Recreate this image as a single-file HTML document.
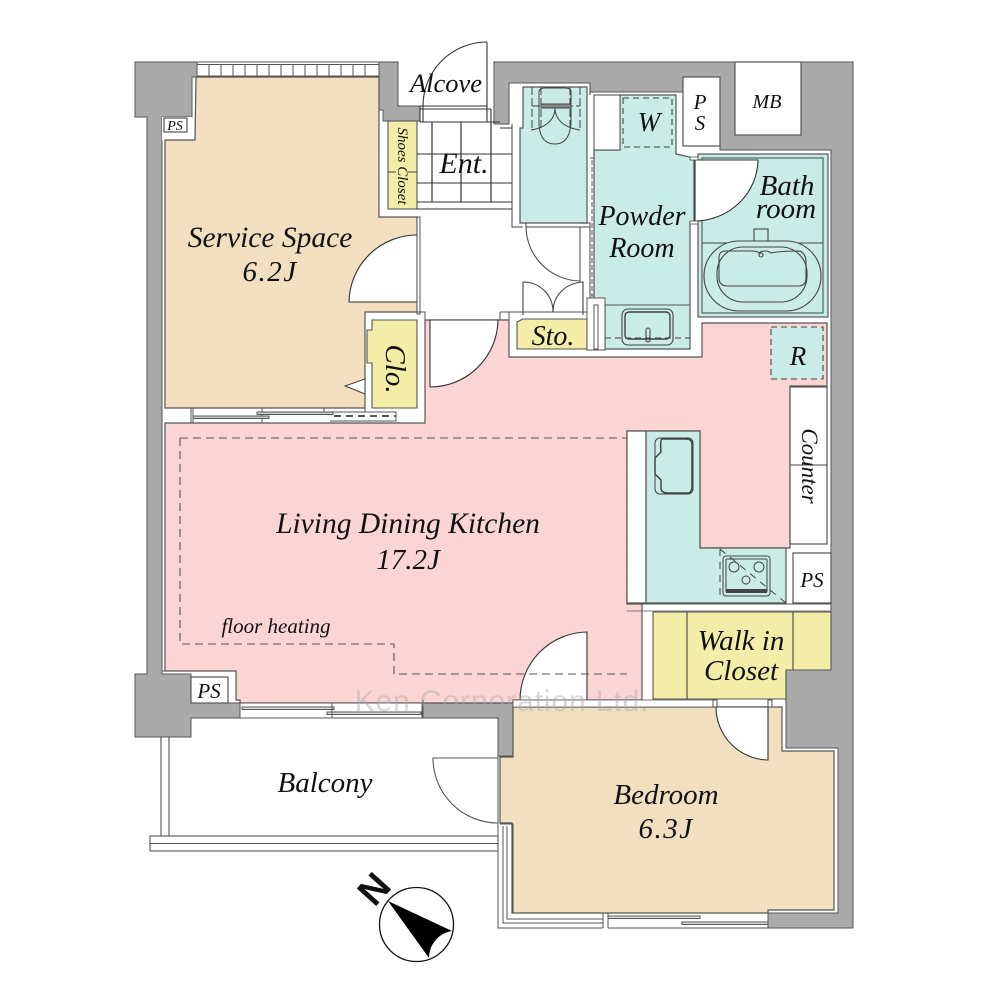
<!DOCTYPE html>
<html><head><meta charset="utf-8"><style>
html,body{margin:0;padding:0;background:#fff}
svg{display:block}
text{font-family:"Liberation Serif",serif;font-style:italic;fill:#111;text-anchor:middle}
</style></head><body>
<svg width="1000" height="1000" viewBox="0 0 1000 1000" xmlns="http://www.w3.org/2000/svg">
<rect width="1000" height="1000" fill="#fff"/>
<!-- grey structure -->
<g fill="#aaaaaa" stroke="#555" stroke-width="1">
<path d="M135 62H197V77H192V117H162V674H191V703H240V718H191V737H135V674H147V117H135Z"/>
<path d="M379 62H398V106H420V121H383V110H379Z"/>
<path d="M494 62H853V928H768V913H838V748H786V670H831V150H720V146H683V92H590V83H509V124H494Z"/>
<path d="M423 703H513V756H498V718H423Z"/>
</g>
<!-- white boxes -->
<g fill="#fff" stroke="#555" stroke-width="1.2">
<rect x="735" y="62" width="66" height="73"/>
<rect x="683" y="77" width="37" height="69"/>
<rect x="191" y="677" width="37" height="26"/>
<path d="M162 117H192V130H195V140H165V423H162Z" stroke="none"/>
<rect x="164" y="118" width="23" height="14"/>
</g>
<path d="M398 62V106H420" fill="none" stroke="#555"/>
<path d="M162 671H236V700H240" fill="none" stroke="#555"/>
<path d="M162 140V671" stroke="#555"/>
<!-- top window -->
<g stroke="#555" stroke-width="1" fill="#fff">
<rect x="197" y="62" width="182" height="14"/>
<path d="M209 64V76M221 64V76M233 64V76M245 64V76M257 64V76M269 64V76M281 64V76M293 64V76M305 64V76M317 64V76M329 64V76M341 64V76M353 64V76M365 64V76M197 64.500H379" fill="none"/>
</g>
<!-- service space -->
<path d="M196 77H379V217H417V312H365V408H165V140H195Z" fill="#f2dfbf" stroke="#555" stroke-width="1.200"/>
<path d="M417 235A68 68 0 0 0 349 302H417Z" fill="#fff" stroke="#333" stroke-width="1.100"/>
<rect x="417" y="217" width="3" height="97" fill="#fff" stroke="#555"/>
<path d="M345 386L365 379V394Z" fill="#fff" stroke="#444"/>
<path d="M365 312H425V423M365 408V412" fill="none" stroke="#555"/>
<!-- closets -->
<path d="M372 320H417V408H372V363H367V330H372Z" fill="#f3eda7" stroke="#555" stroke-width="1.100"/>
<rect x="388" y="121" width="29" height="88" fill="#f3eda7" stroke="#555" stroke-width="1.100"/>
<path d="M388 172H396M408 172H417" stroke="#444"/>
<!-- window under service -->
<g fill="none" stroke="#555">
<path d="M191 408V423M193 408V423M262 408V423"/>
<rect x="193" y="416" width="76" height="2.500" fill="#ccc"/>
<rect x="257" y="412" width="76" height="2.500" fill="#ccc"/>
<path d="M324 408V412H396V421H330"/>
<path d="M334 416H396" stroke-dasharray="7 5" stroke-width="2"/>
<path d="M165 423H425"/>
</g>
<!-- LDK -->
<path d="M165 423H425V320H509V357H702V323H827V386H790V548H700V431H627V604H642V700H587V700H513V703H423V700H423V703H240V700H236V671H165Z" fill="#fbd5d3" stroke="#555" stroke-width="1.200"/>
<rect x="628" y="432" width="18" height="171" fill="#fff"/>
<path d="M430 320H498A68 68 0 0 1 430 387Z" fill="#fff" stroke="#333" stroke-width="1.100"/>
<path d="M587 700V632A68 68 0 0 0 520 700Z" fill="#fff" stroke="#333" stroke-width="1.100"/>
<path d="M500 312V320M509 312V320M500 312H587" fill="none" stroke="#555"/>
<path d="M180 438H627V604M180 438V644H394V674H627" fill="none" stroke="#555" stroke-width="1.100" stroke-dasharray="8 5"/>
<!-- bottom window -->
<g fill="#fff" stroke="#555">
<rect x="240" y="703" width="183" height="15"/>
<rect x="242" y="707" width="92" height="2.500" fill="#ddd"/>
<rect x="327" y="712" width="94" height="2.500" fill="#ddd"/>
<path d="M332 703V718M422 703V718" fill="none"/>
</g>
<!-- balcony -->
<g fill="none" stroke="#555" stroke-width="1.100">
<path d="M161 737V836M169 737V836"/>
<rect x="150" y="836" width="348" height="15"/>
<path d="M150 843.500H498"/>
<path d="M498 758H433A65 65 0 0 0 498 823"/>
</g>
<!-- bedroom -->
<path d="M513 707H782V751H834V910H768V913H512V823H500V757H513Z" fill="#f2dfbf" stroke="#555" stroke-width="1.200"/>
<path d="M716 707H768V760A53 53 0 0 1 716 707Z" fill="#fff" stroke="#333" stroke-width="1.100"/>
<rect x="513" y="700" width="200" height="7" fill="#fff" stroke="#555" stroke-width=".8"/>
<rect x="713" y="700" width="4" height="7" fill="#fff" stroke="#555"/>
<rect x="768" y="700" width="4" height="7" fill="#fff" stroke="#555"/>
<g fill="none" stroke="#555">
<path d="M498 718V928H603M503 826V923H603M507 826V919H603M500 824H513V913"/>
<path d="M603 913V928M608 913V928M768 913V928"/>
<path d="M608 928H768"/>
<rect x="608" y="916" width="92" height="2.500" fill="#ddd"/>
<rect x="682" y="922" width="86" height="2.500" fill="#ddd"/>
</g>
<!-- walk in closet -->
<path d="M653 612H831V670H786V699H653Z" fill="#f3eda7" stroke="#555" stroke-width="1.100"/>
<path d="M687 612V699M793 612V670" stroke="#444" stroke-width="1.100"/>
<!-- Kitchen -->
<path d="M646 431H700V548H786V603H646Z" fill="#c9ece6" stroke="#555" stroke-width="1.200"/>
<path d="M627 431H646V603H627Z" fill="#fff" stroke="#555" stroke-width="1.200"/>
<path d="M642 604V700M627 604H831" stroke="#555"/>
<path d="M627 611H831" stroke="#555" stroke-width=".8"/>
<rect x="790" y="387" width="37" height="157" fill="#fff" stroke="#555" stroke-width="1.200"/>
<path d="M790 465H827" stroke="#444"/>
<rect x="793" y="553" width="38" height="50" fill="#fff" stroke="#555" stroke-width="1.200"/>
<g fill="none" stroke="#444">
<rect x="655" y="438" width="38" height="56" rx="5"/>
<path d="M676 439H662Q660 440 661 452L655 458V474L661 480V488Q661 493 668 493H688Q691 493 692 488V444Q692 439 686 439Z" stroke-width="1.500"/>
<rect x="723" y="556" width="47" height="40" rx="3"/>
<rect x="726" y="559" width="41" height="33" rx="1"/>
<circle cx="734" cy="567" r="5"/>
<circle cx="759" cy="567" r="5"/>
<circle cx="746" cy="580" r="4"/>
<path d="M726 590H767M726 592H767" stroke-width="2"/>
<path d="M720 549V600M720 549L786 603" stroke-dasharray="7 6"/>
</g>
<!-- Toilet -->
<path d="M523 87H587V223H520V128H523Z" fill="#c9ece6" stroke="#555" stroke-width="1.200"/>
<g fill="none" stroke="#444">
<path d="M532 87V130M541 87V130M570 87V130M580 87V130M532 106H580" stroke-dasharray="8 3"/>
<path d="M539 104V92Q539 88 545 88H565Q571 88 571 92V122Q570 144 555 144Q539 144 539 122Z"/>
<rect x="541" y="104" width="30" height="4" fill="#888"/>
<path d="M555 108C555 120 545 128 531 130M555 108C555 120 565 128 580 130"/>
<path d="M526 223V227A55 55 0 0 0 580 281V227M526 227H590M580 223H590V298"/>
<path d="M512 124V227H523M590 83V95"/>
</g>
<!-- Ent tiles -->
<g fill="none" stroke="#333" stroke-width="1.100">
<path d="M432 122V202M461 122V202M491 122V202" stroke-width="1.200"/>
<path d="M417 154H512M417 183H512M417 202H512M420 122H500M500 128H512M417 209H512"/>
<path d="M487 42V122M487 42A64 64 0 0 0 423 106V122M420 106V122"/>
<path d="M420 106H487M420 109H491M491 109V122"/>
</g>
<!-- Storage -->
<path d="M517 322L523 319H587V349H517Z" fill="#f3eda7" stroke="#555" stroke-width="1.100"/>
<g fill="none" stroke="#444" stroke-width="1.100">
<path d="M523 315V282C540 282 553 295 553 312C553 295 566 283 583 282V315"/>
</g>
<!-- Powder -->
<path d="M594 150H620V95H676V154L694 158V222H690V349H605V305H594Z" fill="#c9ece6" stroke="#555" stroke-width="1.200"/>
<rect x="594" y="95" width="26" height="55" fill="#fff" stroke="#555" stroke-width="1.100"/>
<path d="M605 305H690" stroke="#555"/>
<rect x="587" y="298" width="18" height="52" fill="#fff" stroke="#555"/>
<rect x="594" y="305" width="4" height="44" fill="#fff" stroke="#555"/>
<path d="M590 158H594V296H590M592 160V296" fill="none" stroke="#555" stroke-dasharray="5 2"/>
<g fill="none" stroke="#444" stroke-width="1.100">
<rect x="623" y="98" width="49" height="49" stroke-dasharray="6 4"/>
<rect x="622" y="309" width="51" height="36" rx="6"/>
<rect x="625" y="312" width="45" height="27" rx="4" stroke-width="1.400"/>
<rect x="646" y="328" width="4" height="14" rx="2"/>
<path d="M605 338H690" stroke-dasharray="6 4"/>
</g>
<!-- Bathroom -->
<rect x="698" y="154" width="130" height="163" fill="#c9ece6" stroke="#555" stroke-width="1.200"/>
<rect x="702" y="158" width="121" height="155" fill="none" stroke="#444"/>
<path d="M695 160H758A64 62 0 0 1 695 221Z" fill="#fff" stroke="#333" stroke-width="1.100"/>
<rect x="690" y="157" width="8" height="3" fill="#fff" stroke="#555" stroke-width=".8"/>
<rect x="690" y="221" width="8" height="3" fill="#fff" stroke="#555" stroke-width=".8"/>
<g fill="none" stroke="#444" stroke-width="1.100">
<path d="M702 243H823"/>
<rect x="754" y="229" width="14" height="14"/>
<rect x="704" y="241" width="117" height="70" rx="35" fill="#c9ece6"/>
<rect x="717" y="247" width="90" height="55" rx="26"/>
<path d="M725 251H752Q757 251 759 253Q761 251 766 251Q768 251 771 253Q780 251 800 251Q806 254 806 262V278Q806 286 798 286H728Q719 286 719 278V258Q719 251 725 251Z"/>
<circle cx="761" cy="255" r="2"/>
</g>
<!-- R -->
<rect x="771" y="327" width="52" height="52" fill="#c9ece6" stroke="#444" stroke-width="1.100" stroke-dasharray="6 4"/>
<!-- Compass -->
<circle cx="416.500" cy="924.500" r="37" fill="#fff" stroke="#111" stroke-width="1.300"/>
<path d="M388 901L452 931A27 27 0 0 0 429 958Z" fill="#000"/>
<text x="374" y="902" transform="rotate(-48 374 889)" style="font-family:'Liberation Sans',sans-serif;font-style:normal;font-size:38px;font-weight:bold">N</text>
<!-- Labels -->
<text x="270" y="247" font-size="29.500">Service Space</text>
<text x="270" y="281" font-size="29" letter-spacing="1.500">6.2J</text>
<text x="446" y="92" font-size="26.500">Alcove</text>
<text x="464" y="173" font-size="30">Ent.</text>
<text x="649" y="131" font-size="27">W</text>
<text x="700" y="109" font-size="21">P</text>
<text x="700" y="130" font-size="21">S</text>
<text x="767" y="108" font-size="20">MB</text>
<text x="787" y="195" font-size="29">Bath</text>
<text x="786" y="218" font-size="29">room</text>
<text x="642" y="225" font-size="28">Powder</text>
<text x="642" y="257" font-size="28">Room</text>
<text x="553" y="345" font-size="28">Sto.</text>
<text x="798" y="365" font-size="27">R</text>
<text x="408" y="533" font-size="29.500">Living Dining Kitchen</text>
<text x="408" y="569" font-size="29">17.2J</text>
<text x="276" y="633" font-size="21">floor heating</text>
<text x="741" y="650" font-size="29">Walk in</text>
<text x="741" y="680" font-size="29">Closet</text>
<text x="812" y="587" font-size="21">PS</text>
<text x="209" y="698" font-size="21">PS</text>
<text x="175" y="130" font-size="14">PS</text>
<text x="325" y="792" font-size="29">Balcony</text>
<text x="666" y="804" font-size="29">Bedroom</text>
<text x="666" y="838" font-size="29" letter-spacing="1.500">6.3J</text>
<text transform="translate(401 166) rotate(90)" x="0" y="3" font-size="15">Shoes Closet</text>
<text transform="translate(386 369) rotate(90)" x="0" y="0" font-size="29">Clo.</text>
<text transform="translate(802 466) rotate(90)" x="0" y="0" font-size="23">Counter</text>
<text x="502" y="711" style="font-family:'Liberation Sans',sans-serif;font-style:normal;font-size:30px;fill:#aaa;opacity:.45;letter-spacing:.9px">Ken Corporation Ltd.</text>
</svg>
</body></html>
